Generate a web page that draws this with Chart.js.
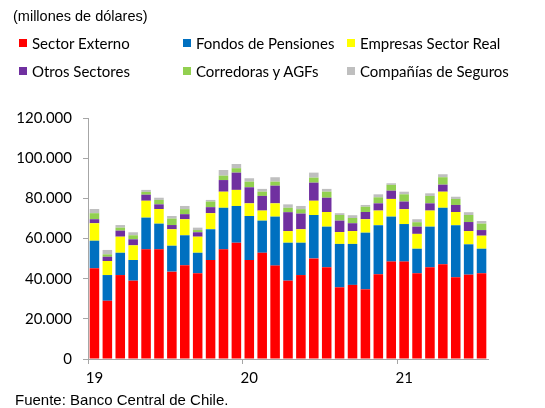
<!DOCTYPE html>
<html><head><meta charset="utf-8">
<script src="https://cdn.jsdelivr.net/npm/chart.js@4/dist/chart.umd.min.js"></script>
<style>
html,body{margin:0;padding:0;background:#fff;}
#wrap{position:relative;width:545px;height:408px;overflow:hidden;}
#c{position:absolute;left:0;top:0;}
.t{position:absolute;white-space:nowrap;color:#000;}
.title{left:13px;top:8px;font:14.5px "Liberation Sans",Arial,sans-serif;}
.foot{left:15px;top:392px;font:15px/15px "Liberation Sans",Arial,sans-serif;}
.lg{font:15px Lato,sans-serif;line-height:18px;}
.box{position:absolute;width:8px;height:8px;}
</style></head>
<body><div id="wrap"><canvas id="c" width="545" height="408"></canvas>
<div class="t title">(millones de dólares)</div>
<div id="legend"></div>
<div class="t foot">Fuente: Banco Central de Chile.</div>
</div>
<script>
const categories = ['2019-01','2019-02','2019-03','2019-04','2019-05','2019-06','2019-07','2019-08','2019-09','2019-10','2019-11','2019-12',
 '2020-01','2020-02','2020-03','2020-04','2020-05','2020-06','2020-07','2020-08','2020-09','2020-10','2020-11','2020-12',
 '2021-01','2021-02','2021-03','2021-04','2021-05','2021-06','2021-07'];
const yearLabels = {'2019-01':'19','2020-01':'20','2021-01':'21'};
const seriesNames = ['Sector Externo','Fondos de Pensiones','Empresas Sector Real','Otros Sectores','Corredoras y AGFs','Compañías de Seguros'];
const sectorExterno = [45200,29000,41800,39000,54600,54600,43500,46700,42700,49300,54600,57900,49300,52900,46500,39000,41800,50100,45700,35700,36900,34700,42200,48500,48500,42700,45700,47200,40700,42000,42700];
const fondosPensiones = [13700,12800,11100,10300,15800,12800,12900,14900,10200,15300,20700,18300,21900,16000,24400,18900,16100,21600,20200,21600,20400,28200,24400,22400,18700,12200,20200,28100,25900,15100,12200];
const empresasSectorReal = [8700,7000,8000,7300,8400,7300,8200,8000,8000,8000,8000,8000,6300,5000,6600,5800,6700,7100,7300,5900,6400,6700,7300,8800,7400,7400,8000,8000,6600,6600,6500];
const otrosSectores = [2000,2100,3000,3000,3000,2300,2100,2500,2200,3000,5800,8600,8000,7300,8800,9400,7800,9000,7100,5700,3900,3600,3600,4100,3800,3600,3600,3500,3500,4500,2800];
const corredorasAGFs = [3000,1200,1500,2000,1400,2200,3200,2500,1100,2800,2200,2200,2800,2100,2000,2200,2200,2500,3000,2800,2600,2600,3000,2900,3600,2200,3700,3700,3000,3500,3200];
const companiasSeguros = [2100,2200,1300,1500,1000,1100,1300,1600,1200,800,2800,2100,1700,1400,2200,1700,1600,2500,1400,900,1400,900,1500,800,1300,1500,1300,1500,1100,1400,1300];
const yTicks = [0,20000,40000,60000,80000,100000,120000];

const colors = ['#FF0000','#0070C0','#FFFF00','#7030A0','#92D050','#BFBFBF'];
const seriesData = [sectorExterno,fondosPensiones,empresasSectorReal,otrosSectores,corredorasAGFs,companiasSeguros];

// HTML legend (3 columns x 2 rows)
const legPos = [[19,39],[183,39],[347,39],[19,67],[183,67],[347,67]];
const lg = document.getElementById('legend');
seriesNames.forEach((n,i)=>{
  const b=document.createElement('div');b.className='box';b.style.left=legPos[i][0]+'px';b.style.top=legPos[i][1]+'px';b.style.background=colors[i];lg.appendChild(b);
  const t=document.createElement('div');t.className='t lg';t.style.left=(legPos[i][0]+13)+'px';t.style.top=(legPos[i][1]-5)+'px';t.textContent=n;lg.appendChild(t);
});

const axisColor = '#A6A6A6';
new Chart(document.getElementById('c'),{
  type:'bar',
  data:{labels:categories,datasets:seriesNames.map((n,i)=>({label:n,data:seriesData[i],backgroundColor:colors[i],borderWidth:0,barPercentage:0.74,categoryPercentage:1}))},
  options:{
    responsive:false,animation:false,
    layout:{padding:{top:118,right:57,bottom:19,left:0}},
    plugins:{legend:{display:false},tooltip:{enabled:false}},
    scales:{
      x:{stacked:true,offset:true,
        grid:{offset:true,drawOnChartArea:false,tickLength:5,color:(ctx)=>{const i=ctx.index;return (i===0||i===12||i===24)?axisColor:'rgba(0,0,0,0)';}},
        border:{color:axisColor,width:1},
        ticks:{autoSkip:false,maxRotation:0,padding:5,color:'#000',font:{family:'Lato',size:15},callback:(v,i)=>yearLabels[categories[i]]||''},
        afterFit:(s)=>{s.height=30;}
      },
      y:{stacked:true,min:0,max:120000,
        afterBuildTicks:(s)=>{s.ticks=yTicks.map(v=>({value:v}));},
        grid:{drawOnChartArea:false,tickLength:5,color:axisColor},
        border:{color:axisColor,width:1},
        ticks:{padding:11,color:'#000',font:{family:'Lato',size:15},callback:(v)=>String(v).replace(/\B(?=(\d{3})+(?!\d))/g,'.')},
        afterFit:(s)=>{s.width=88;}
      }
    }
  }
});
</script></body></html>
